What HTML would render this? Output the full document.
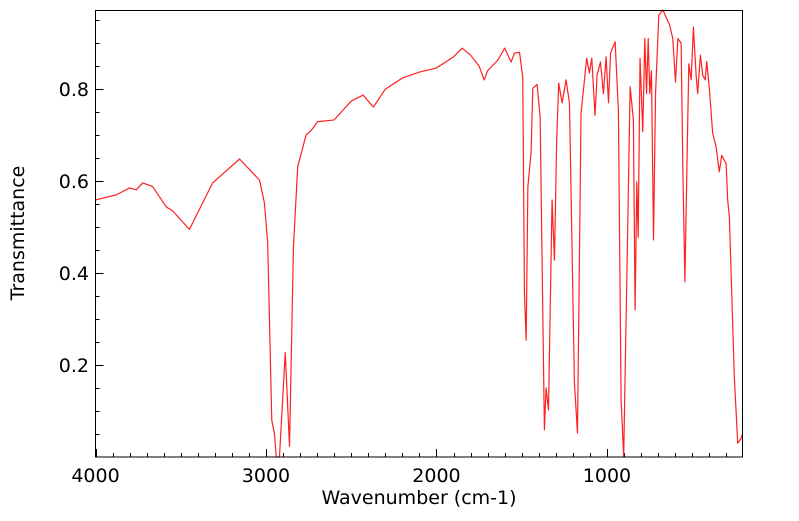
<!DOCTYPE html>
<html><head><meta charset="utf-8"><style>
html,body{margin:0;padding:0;background:#fff;}
svg text{font-family:"DejaVu Sans","Liberation Sans",sans-serif;fill:#000;}
</style></head><body>
<svg id="chart" width="799" height="516" viewBox="0 0 799 516" xmlns="http://www.w3.org/2000/svg">
<g id="axes"></g>
<path id="line" fill="none" stroke="#ff2020" stroke-width="1.2" stroke-linejoin="round"/>
<rect x="95.5" y="10.5" width="647" height="446.5" fill="none" stroke="#000" stroke-width="1"/>
<text x="419" y="504" font-size="19" text-anchor="middle">Wavenumber (cm-1)</text>
<text transform="translate(24,233) rotate(-90)" font-size="19" text-anchor="middle">Transmittance</text>
</svg>
<script>
const wavenumbers=[4000,3879,3800,3761,3723,3665,3585,3547,3449,3313,3155,3038,3009,2990,2966,2950,2940,2921,2887,2862,2839,2814,2765,2735,2698,2600,2500,2430,2370,2300,2200,2100,2000,1900,1850,1800,1750,1720,1700,1640,1600,1562,1543,1513,1494,1484,1474,1464,1445,1435,1410,1392,1367,1357,1343,1322,1308,1295,1283,1263,1240,1220,1191,1173,1152,1132,1119,1103,1089,1070,1058,1038,1021,1005,991,979,952,933,917,902,884,864,845,835,825,817,806,790,778,768,758,749,739,727,715,696,672,633,614,598,584,565,555,543,532,520,506,493,477,468,452,438,424,415,399,380,360,341,327,301,292,282,253,233,214,205];
const transmittance=[0.559,0.570,0.585,0.581,0.596,0.588,0.544,0.535,0.495,0.596,0.648,0.602,0.552,0.465,0.08,0.05,0.0,0.0,0.227,0.023,0.457,0.631,0.70,0.71,0.729,0.733,0.774,0.787,0.761,0.80,0.824,0.837,0.846,0.87,0.889,0.874,0.85,0.82,0.84,0.863,0.889,0.859,0.878,0.880,0.826,0.356,0.254,0.587,0.663,0.802,0.81,0.740,0.059,0.15,0.102,0.559,0.428,0.689,0.813,0.77,0.82,0.77,0.163,0.052,0.748,0.82,0.867,0.835,0.867,0.743,0.83,0.859,0.79,0.87,0.77,0.878,0.903,0.754,0.124,0.0,0.378,0.805,0.733,0.32,0.598,0.478,0.867,0.707,0.91,0.79,0.91,0.79,0.84,0.472,0.79,0.961,0.972,0.94,0.91,0.815,0.91,0.90,0.63,0.381,0.61,0.855,0.82,0.935,0.83,0.79,0.874,0.83,0.82,0.86,0.80,0.704,0.675,0.62,0.656,0.638,0.559,0.522,0.174,0.03,0.04,0.05];
const xTickLabels=["4000","3000","2000","1000"];
const yTickLabels=["0.2","0.4","0.6","0.8"];
const X0=95.5,X1=742.5,Y0=457,Y1=10;
const WN_MAX=4000,WN_MIN=205,T_MIN=0,T_MAX=0.972;
function xs(w){return X0+(WN_MAX-w)/(WN_MAX-WN_MIN)*(X1-X0);}
function ys(t){return Y0-(t-T_MIN)/(T_MAX-T_MIN)*(Y0-Y1);}
const NS="http://www.w3.org/2000/svg";
let d="";
for(let i=0;i<wavenumbers.length;i++){d+=(i?"L":"M")+xs(wavenumbers[i]).toFixed(2)+","+ys(transmittance[i]).toFixed(2);}
document.getElementById("line").setAttribute("d",d);
const axes=document.getElementById("axes");
function ln(x1,y1,x2,y2,name){const l=document.createElementNS(NS,"line");
l.setAttribute("x1",x1);l.setAttribute("y1",y1);l.setAttribute("x2",x2);l.setAttribute("y2",y2);
l.setAttribute("stroke","#000");l.setAttribute("stroke-width","1");


axes.appendChild(l);}
function tx(x,y,s,anchor,name){const t=document.createElementNS(NS,"text");
t.setAttribute("x",x);t.setAttribute("y",y);t.setAttribute("font-size","19");t.setAttribute("text-anchor",anchor);t.textContent=s;


axes.appendChild(t);}
for(let w=4000;w>=300;w-=100){const x=Math.round(xs(w))+0.5;const major=w%1000===0;ln(x,Y0,x,Y0-(major?8:4),major?"x-major-tick":"x-minor-tick");}
xTickLabels.forEach(s=>tx(xs(+s),482,s,"middle","x-tick-label"));
for(let k=1;k<=19;k++){const t=k*0.05;const y=Math.round(ys(t))+0.5;const major=k%4===0;ln(X0,y,X0+(major?8:4),y,major?"y-major-tick":"y-minor-tick");}
yTickLabels.forEach(s=>tx(89,ys(+s)+7,s,"end","y-tick-label"));
</script>
</body></html>
